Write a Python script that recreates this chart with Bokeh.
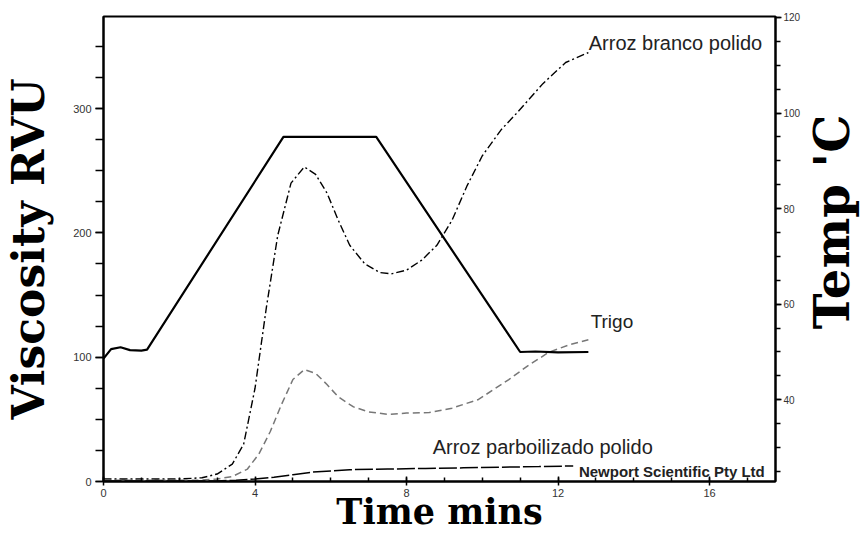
import math
from bokeh.plotting import figure
from bokeh.layouts import row
from bokeh.models import Range1d, LinearAxis, SingleIntervalTicker, Label
from bokeh.core.properties import value
from bokeh.embed import file_html
from bokeh.resources import INLINE

# Temperature profile (minutes, deg C)
temp_time = [0, 0.2, 0.45, 0.7, 1.0, 1.15, 4.75, 7.2, 11.0, 11.4, 12.0, 12.8]
temp_c = [48.6, 50.6, 51.0, 50.4, 50.3, 50.5, 95, 95, 50, 50.1, 49.9, 50]

# Arroz branco polido (RVU)
branco_t = [0, 1, 2, 2.6, 3.0, 3.4, 3.7, 4.0, 4.3, 4.6, 4.95, 5.3, 5.6, 5.9, 6.2, 6.5, 6.9,
            7.3, 7.6, 8.0, 8.4, 8.8, 9.2, 9.6, 10.0, 10.5, 10.9, 11.6, 12.2, 12.8]
branco_v = [2, 2, 2, 3, 6, 14, 30, 75, 140, 198, 240, 253, 247, 232, 210, 190, 175,
            168, 167, 170, 178, 190, 210, 238, 262, 283, 296, 320, 337, 345]

# Trigo (RVU)
trigo_t = [0, 2.5, 3.0, 3.4, 3.8, 4.1, 4.4, 4.7, 5.0, 5.3, 5.6, 5.9, 6.2, 6.6, 7.0, 7.5,
           8.0, 8.6, 9.2, 9.9, 10.7, 11.2, 11.76, 12.3, 12.8]
trigo_v = [1, 1, 2, 4, 10, 22, 40, 62, 82, 90, 87, 78, 68, 60, 56, 54,
           55, 55.5, 59, 66, 82, 93, 104, 110, 114]

# Arroz parboilizado polido (RVU)
parb_t = [0, 3, 3.5, 4, 4.5, 5, 5.5, 6, 6.5, 7.5, 8.5, 9.5, 10.5, 11.5, 12.4]
parb_v = [0.5, 0.5, 1, 2, 3.5, 5.5, 7.5, 8.5, 9.5, 10, 10.5, 11, 11.5, 12, 12.5]

visc_range = (0, 374)
temp_range = (22.9, 120.2)
time_range = (0, 17.74)

H = 534
W1 = 803
W2 = 57
p = figure(width=W1, height=H, output_backend="svg", toolbar_location=None,
           x_range=Range1d(*time_range), y_range=Range1d(*visc_range),
           min_border_left=102, min_border_right=25, min_border_top=16, min_border_bottom=52,
           background_fill_color="white", border_fill_color="white")
p.extra_y_ranges = {"temp": Range1d(*temp_range)}
p.xgrid.grid_line_color = None
p.ygrid.grid_line_color = None
p.outline_line_color = "black"
p.outline_line_width = 2

def style_axis(ax):
    ax.axis_line_color = "black"
    ax.axis_line_width = 2
    ax.major_tick_line_color = "black"
    ax.minor_tick_line_color = "black"
    ax.major_tick_line_width = 1.5
    ax.minor_tick_line_width = 1.5
    ax.major_label_text_font = "Liberation Sans"
    ax.major_label_text_font_size = "11px"
    ax.major_label_text_color = "#333333"
    ax.axis_label_text_font = "DejaVu Serif"
    ax.axis_label_text_font_style = "bold"
    ax.axis_label_text_color = "black"

xa = p.xaxis[0]
xa.ticker = SingleIntervalTicker(interval=4, num_minor_ticks=4)
xa.axis_label = "Time mins"
style_axis(xa)
xa.axis_label_text_font_size = "35px"
xa.major_tick_in = 5
xa.major_tick_out = 4
xa.minor_tick_in = 4
xa.minor_tick_out = 0
xa.major_label_standoff = 3
xa.axis_label_standoff = -9

ya = p.yaxis[0]
ya.ticker = SingleIntervalTicker(interval=100, num_minor_ticks=4)
ya.axis_label = "Viscosity RVU"
style_axis(ya)
ya.axis_label_text_font_size = "44px"
ya.major_tick_in = 0
ya.major_tick_out = 8
ya.minor_tick_in = 0
ya.minor_tick_out = 8
ya.major_label_standoff = 4
ya.axis_label_standoff = 16

ra = LinearAxis(y_range_name="temp", ticker=SingleIntervalTicker(interval=20, num_minor_ticks=4))
style_axis(ra)
ra.major_label_text_font_size = "10px"
ra.major_tick_in = 0
ra.major_tick_out = 6
ra.minor_tick_in = 0
ra.minor_tick_out = 5
ra.major_label_standoff = 2
p.add_layout(ra, "right")

p.line(branco_t, branco_v, line_color="black", line_width=1.4, line_dash="8 3 2 3")
p.line(trigo_t, trigo_v, line_color="#777777", line_width=1.5, line_dash="7 4")
p.line(parb_t, parb_v, line_color="black", line_width=1.5, line_dash="18 3")
p.line(temp_time, temp_c, y_range_name="temp", line_color="black", line_width=2.2)

def add_label(x, y, text, size, style="normal"):
    p.add_layout(Label(x=x, y=y, text=text, text_font="Liberation Sans",
                       text_font_size=size, text_color="#222222", text_baseline="middle",
                       text_align="left", text_font_style=style))

add_label(12.81, 352.6, "Arroz branco polido", "20px")
add_label(12.86, 128.5, "Trigo", "19px")
add_label(8.69, 28, "Arroz parboilizado polido", "20px")
add_label(12.55, 8, "Newport Scientific Pty Ltd", "15px", "bold")

# right-hand axis title, reading bottom to top, in a narrow side panel
p2 = figure(width=W2, height=H, output_backend="svg", toolbar_location=None,
            x_range=Range1d(0, W2), y_range=Range1d(0, H),
            min_border_left=0, min_border_right=0, min_border_top=0, min_border_bottom=0,
            outline_line_color=None, background_fill_color="white", border_fill_color="white")
p2.axis.visible = False
p2.xgrid.grid_line_color = None
p2.ygrid.grid_line_color = None
p2.text(x=[W2 / 2], y=[H - 236], text=["Temp 'C"], angle=math.pi / 2,
        text_align="center", text_baseline="middle", text_color="black",
        text_font=value("DejaVu Serif"), text_font_style="bold", text_font_size="48px")

layout = row(p, p2)
open("out.html", "w").write(file_html(layout, INLINE))
